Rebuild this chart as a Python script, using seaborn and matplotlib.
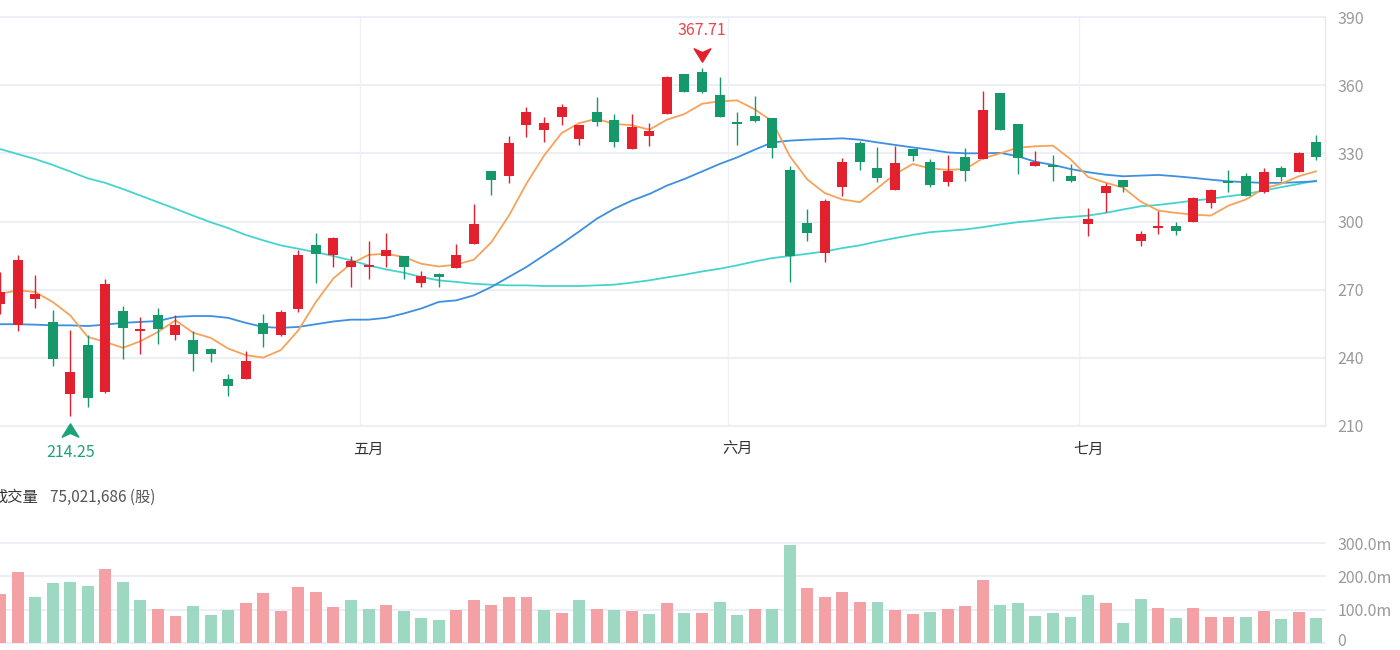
import numpy as np
import pandas as pd
import matplotlib
matplotlib.use("Agg")
import matplotlib.pyplot as plt
import seaborn as sns
from matplotlib.path import Path
from matplotlib.transforms import offset_copy, ScaledTranslation

# ---------------- data ----------------
opens = [263.8, 254.6, 265.8, 255.8, 224.0, 245.6, 225.0, 260.5, 251.8, 258.7,
         250.0, 248.0, 244.1, 230.6, 230.9, 255.4, 250.2, 261.7, 289.5, 285.4,
         280.0, 280.0, 284.8, 284.8, 273.1, 277.0, 279.5, 290.2, 322.4, 319.9,
         342.4, 340.4, 346.2, 336.3, 348.3, 344.6, 331.9, 337.8, 347.3, 364.8,
         365.6, 355.6, 343.9, 346.5, 345.4, 322.8, 299.3, 286.1, 315.1, 334.5,
         323.4, 314.0, 331.9, 326.3, 317.3, 328.2, 327.5, 356.5, 342.9, 324.6,
         324.9, 320.2, 298.7, 312.6, 318.3, 291.4, 297.1, 298.0, 300.0, 308.0,
         318.0, 320.2, 312.9, 323.4, 321.7, 334.8]
highs = [277.8, 285.1, 276.3, 260.9, 252.1, 250.2, 274.8, 262.8, 258.0, 262.0,
         258.7, 251.7, 244.4, 232.7, 242.9, 259.5, 260.9, 287.3, 295.0, 293.1,
         284.8, 291.2, 295.0, 284.8, 278.0, 277.3, 290.2, 307.5, 322.4, 337.5,
         350.2, 346.2, 351.7, 342.4, 355.0, 347.3, 347.3, 343.3, 364.1, 364.8,
         367.71, 363.8, 348.0, 355.3, 345.4, 324.3, 305.6, 310.0, 327.8, 335.6,
         332.7, 333.1, 331.9, 327.5, 329.3, 332.2, 357.5, 356.5, 342.9, 331.2,
         329.3, 325.4, 305.9, 317.0, 318.3, 296.0, 304.8, 300.0, 310.6, 314.3,
         322.8, 321.2, 323.4, 324.3, 330.7, 338.0]
lows = [259.5, 251.7, 262.0, 236.5, 214.25, 218.2, 224.6, 239.7, 241.9, 246.3,
        247.8, 234.3, 238.2, 223.3, 230.6, 244.8, 249.6, 260.0, 272.9, 280.0,
        271.2, 274.8, 280.0, 274.8, 271.2, 271.2, 279.5, 290.2, 311.7, 317.0,
        337.0, 335.1, 342.6, 333.7, 341.9, 332.6, 331.9, 333.4, 347.3, 356.8,
        356.5, 345.8, 333.7, 343.6, 327.8, 273.3, 291.2, 282.1, 311.1, 322.8,
        317.3, 314.0, 326.8, 315.1, 315.8, 318.0, 327.5, 340.4, 320.9, 324.4,
        318.0, 317.3, 293.6, 304.3, 312.9, 289.2, 294.6, 293.9, 300.0, 305.8,
        313.1, 311.1, 312.4, 318.0, 321.7, 327.2]
closes = [269.0, 283.2, 268.2, 239.7, 233.8, 222.2, 272.6, 253.0, 252.5, 252.8,
          254.3, 241.9, 241.6, 227.7, 238.5, 250.7, 260.0, 285.4, 285.8, 292.7,
          282.6, 281.0, 287.6, 280.0, 275.9, 275.7, 285.1, 298.7, 318.4, 334.4,
          348.0, 343.3, 350.2, 342.4, 343.9, 334.8, 341.4, 339.7, 363.4, 356.8,
          356.8, 346.1, 342.7, 344.2, 332.2, 284.6, 295.0, 308.9, 326.3, 326.3,
          319.2, 325.6, 329.0, 316.2, 322.4, 322.4, 349.0, 340.4, 327.8, 326.0,
          323.9, 317.7, 300.9, 315.8, 315.4, 294.3, 298.2, 295.9, 310.2, 313.8,
          317.0, 311.1, 322.0, 319.5, 330.0, 328.2]
# volume in millions of shares
volumes = [147, 214, 137, 181, 184, 172, 221, 182, 129, 101,
           81, 112, 84, 99, 121, 151, 95, 169, 152, 109,
           129, 101, 114, 95, 75, 70, 99, 129, 114, 138,
           138, 99, 90, 129, 102, 99, 96, 87, 120, 90,
           90, 123, 84, 102, 102, 294, 165, 138, 153, 123,
           123, 99, 87, 93, 102, 111, 189, 114, 119, 81,
           89, 77, 145, 119, 59, 131, 104, 76, 104, 79,
           79, 77, 96, 73, 94, 75.021686]
ma5 = [268.2, 269.7, 269.0, 264.6, 258.7, 249.2, 247.0, 244.4, 247.3, 251.4,
       256.5, 251.1, 248.8, 244.1, 241.2, 240.1, 243.4, 252.1, 264.6, 275.0,
       281.4, 285.3, 285.8, 284.4, 281.4, 280.2, 281.0, 283.2, 290.9, 302.6,
       316.7, 329.0, 338.9, 343.3, 345.2, 342.9, 342.4, 340.4, 344.8, 347.3,
       351.8, 352.9, 353.3, 349.4, 344.1, 328.8, 318.5, 312.5, 309.7, 308.5,
       314.7, 320.8, 325.3, 323.4, 322.7, 323.1, 327.8, 330.0, 332.5, 333.1,
       333.4, 327.4, 319.6, 317.1, 314.9, 308.8, 304.8, 303.8, 303.0, 302.6,
       307.0, 309.7, 314.5, 316.6, 319.9, 322.1]
ma20 = [254.8, 254.8, 254.6, 254.3, 254.3, 254.0, 254.6, 255.4, 255.8, 256.2,
        258.0, 258.4, 258.4, 257.6, 255.4, 253.6, 253.2, 253.6, 254.8, 256.0,
        256.8, 256.8, 257.6, 259.5, 261.7, 264.6, 265.3, 267.5, 271.2, 275.6,
        280.0, 285.1, 290.2, 295.6, 301.2, 305.6, 309.2, 312.1, 315.8, 318.7,
        322.0, 325.3, 328.2, 331.6, 334.8, 335.6, 336.0, 336.3, 336.6, 336.0,
        334.8, 333.7, 332.6, 331.6, 330.4, 330.0, 330.0, 330.2, 328.7, 326.3,
        324.9, 323.1, 321.7, 320.6, 319.9, 320.2, 320.5, 319.9, 319.2, 318.4,
        317.7, 317.3, 317.0, 317.0, 317.3, 317.7]
ma60 = [331.9, 329.7, 327.5, 324.9, 322.0, 319.0, 317.0, 314.3, 311.4, 308.5,
        305.6, 302.6, 299.7, 297.1, 294.1, 291.7, 289.5, 288.0, 286.5, 284.8,
        282.9, 280.7, 278.9, 277.5, 275.6, 274.1, 273.4, 272.6, 272.2, 271.9,
        271.9, 271.6, 271.6, 271.6, 271.9, 272.2, 273.1, 274.1, 275.4, 276.6,
        278.0, 279.2, 280.7, 282.4, 283.9, 284.8, 285.8, 286.8, 288.3, 289.5,
        291.2, 292.7, 294.1, 295.3, 295.9, 296.5, 297.5, 298.7, 299.7, 300.4,
        301.4, 302.0, 302.6, 303.8, 305.3, 306.7, 307.3, 308.2, 309.2, 310.0,
        311.1, 312.1, 313.6, 315.1, 316.5, 318.0]
month_labels = ["五月", "六月", "七月"]
month_pos = [21, 42, 62]
price_ticks = [210, 240, 270, 300, 330, 360, 390]
vol_ticks = [0, 100, 200, 300]
vol_tick_labels = ["0", "100.0m", "200.0m", "300.0m"]
latest_volume_shares = 75021686

# ---------------- style ----------------
sns.set_style("white")
plt.rcParams["font.family"] = ["Noto Sans CJK TC", "DejaVu Sans"]

RED, GREEN = "#e3202e", "#16996a"
VRED, VGREEN = "#f4a1a5", "#9dd8c3"
C_MA5, C_MA20, C_MA60 = "#f5a35b", "#3d8fe0", "#45d4cd"
GRID = "#e9ecf3"
TXT = "#999999"

n = len(closes)
idx = np.arange(n)
prev_close = [closes[0] - 1] + closes[:-1]
df = pd.DataFrame({
    "idx": idx, "open": opens, "high": highs, "low": lows, "close": closes,
    "vol": volumes, "ma5": ma5, "ma20": ma20, "ma60": ma60,
    "vdir": np.where(np.array(closes) >= np.array(prev_close), "up", "down"),
})

W, H = 1400, 650
fig = plt.figure(figsize=(W / 100, H / 100), dpi=100)


def rect(l, t, r, b):
    return [l / W, 1 - b / H, (r - l) / W, (b - t) / H]


ax = fig.add_axes(rect(0, 17, 1325, 426))
axv = fig.add_axes(rect(0, 543, 1325, 643))
XL = (0, 75.5)

# ---------- price panel ----------
for t in price_ticks:
    ax.axhline(t, color=GRID, lw=1.2, zorder=0, clip_on=False)
for p in month_pos:
    ax.axvline(p - 0.5, color="#eef0f5", lw=1.0, zorder=0)

sns.lineplot(data=df, x="idx", y="ma60", color=C_MA60, lw=1.3, ax=ax, zorder=2)
sns.lineplot(data=df, x="idx", y="ma20", color=C_MA20, lw=1.3, ax=ax, zorder=2)
sns.lineplot(data=df, x="idx", y="ma5", color=C_MA5, lw=1.3, ax=ax, zorder=2)

up = df["close"] >= df["open"]
ccol = np.where(up, RED, GREEN)
ax.vlines(df["idx"], df["low"], df["high"], colors=ccol, lw=1.0, zorder=3)
body_bot = np.minimum(df["open"], df["close"])
body_h = np.maximum((df["close"] - df["open"]).abs(), 0.6)
ax.bar(df["idx"], body_h, bottom=body_bot, width=0.57, color=ccol,
       linewidth=0, zorder=4)

ax.set_xlim(*XL)
ax.set_ylim(price_ticks[0], price_ticks[-1])
ax.yaxis.tick_right()
ax.set_yticks(price_ticks)
ax.set_yticklabels([str(t) for t in price_ticks])
ax.tick_params(axis="y", length=0, pad=9, labelsize=11.5, labelcolor=TXT)
ax.set_xticks(month_pos)
ax.set_xticklabels(month_labels)
ax.tick_params(axis="x", length=0, pad=10.5, labelsize=11, labelcolor="#333333")
ax.set_xlabel("")
ax.set_ylabel("")
for s in ["top", "left", "bottom"]:
    ax.spines[s].set_visible(False)
ax.spines["right"].set_color("#e6e8ee")
ax.spines["right"].set_linewidth(1.0)

# high / low markers
arrow_up = Path([(0, 0.8), (1, -0.8), (0, -0.35), (-1, -0.8), (0, 0.8)],
                [Path.MOVETO, Path.LINETO, Path.LINETO, Path.LINETO, Path.CLOSEPOLY])
arrow_dn = Path([(0, -0.8), (1, 0.8), (0, 0.35), (-1, 0.8), (0, -0.8)],
                [Path.MOVETO, Path.LINETO, Path.LINETO, Path.LINETO, Path.CLOSEPOLY])
hi_i = int(np.argmax(highs))
lo_i = int(np.argmin(lows))
ax.plot([hi_i], [highs[hi_i]], marker=arrow_dn, ms=12, color=RED, ls="none",
        transform=offset_copy(ax.transData, fig=fig, y=8.8, units="points"),
        clip_on=False, zorder=6)
ax.annotate(f"{highs[hi_i]:.2f}", xy=(hi_i, highs[hi_i]), xytext=(0, 27),
            textcoords="offset points", ha="center", va="center",
            color="#e8434f", fontsize=11.5, annotation_clip=False)
ax.plot([lo_i], [lows[lo_i]], marker=arrow_up, ms=12, color="#1fa277", ls="none",
        transform=offset_copy(ax.transData, fig=fig, y=-9.8, units="points"),
        clip_on=False, zorder=6)
ax.annotate(f"{lows[lo_i]:.2f}", xy=(lo_i, lows[lo_i]), xytext=(0, -26),
            textcoords="offset points", ha="center", va="center",
            color="#1fa277", fontsize=11.5, annotation_clip=False)

# ---------- volume panel ----------
for t in vol_ticks:
    axv.axhline(t, color=GRID, lw=1.2, zorder=0, clip_on=False)
sns.barplot(data=df, x="idx", y="vol", hue="vdir",
            palette={"up": VRED, "down": VGREEN}, width=0.68, saturation=1,
            errorbar=None, legend=False, ax=axv, zorder=2, linewidth=0)
axv.set_xlim(*XL)
axv.set_ylim(vol_ticks[0], vol_ticks[-1])
axv.yaxis.tick_right()
axv.set_yticks(vol_ticks)
axv.set_yticklabels(vol_tick_labels)
axv.tick_params(axis="y", length=0, pad=9, labelsize=11.5, labelcolor=TXT)
axv.set_xticks([])
axv.set_xlabel("")
axv.set_ylabel("")
for s in axv.spines.values():
    s.set_visible(False)
# keep the "0" label inside the canvas (slightly raised)
zero_lab = axv.get_yticklabels()[0]
zero_lab.set_transform(zero_lab.get_transform() +
                       ScaledTranslation(0, 3 / 100, fig.dpi_scale_trans))

fig.text(-7.5 / W, 1 - 497 / H, "成交量", ha="left", va="center",
         fontsize=11, color="#333333")
fig.text(50 / W, 1 - 497 / H, f"{latest_volume_shares:,} (股)", ha="left",
         va="center", fontsize=11, color="#555555")

fig.savefig("out.png", dpi=100, facecolor="white")
